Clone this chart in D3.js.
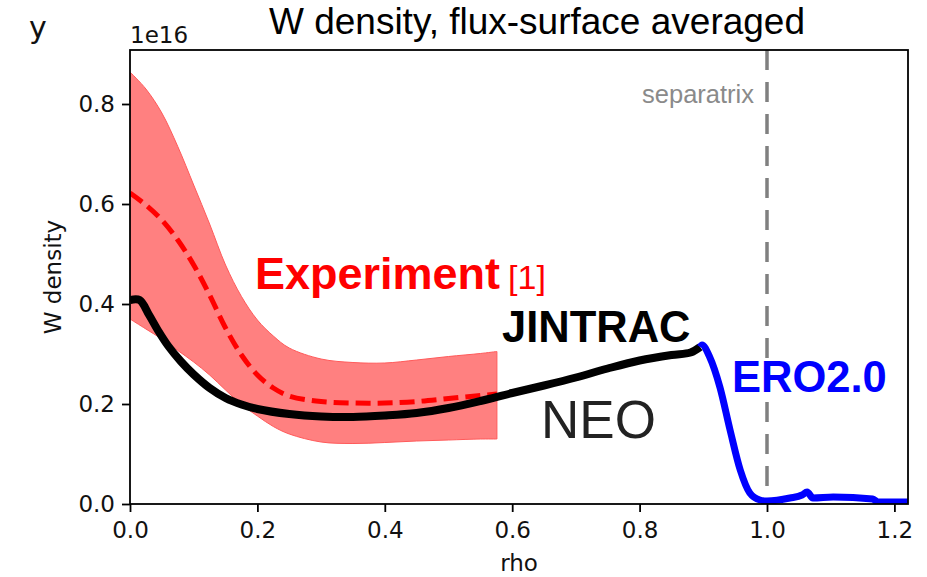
<!DOCTYPE html>
<html><head><meta charset="utf-8">
<script src="https://cdn.jsdelivr.net/npm/d3@7"></script>
<style>html,body{margin:0;padding:0;background:#fff;} svg{display:block;}</style>
</head><body>
<script>
// ---- data ----
const bandRho   = [0, 0.025, 0.05, 0.075, 0.1, 0.125, 0.15, 0.175, 0.2, 0.225, 0.25, 0.3, 0.35, 0.4, 0.45, 0.5, 0.55, 0.576];
const bandUpper = [0.864, 0.83, 0.782, 0.715, 0.638, 0.56, 0.478, 0.415, 0.368, 0.336, 0.312, 0.29, 0.283, 0.282, 0.288, 0.295, 0.301, 0.305];
const bandLower = [0.37, 0.35, 0.33, 0.307, 0.284, 0.258, 0.228, 0.199, 0.176, 0.155, 0.14, 0.124, 0.121, 0.123, 0.126, 0.128, 0.13, 0.13];
const expMean   = [0.622, 0.598, 0.568, 0.528, 0.478, 0.418, 0.352, 0.298, 0.258, 0.232, 0.216, 0.205, 0.202, 0.202, 0.205, 0.211, 0.217, 0.22];

const jintracRho = [0, 0.015, 0.03, 0.045, 0.06, 0.08, 0.1, 0.125, 0.15, 0.175, 0.2, 0.25, 0.3, 0.35, 0.4, 0.45, 0.5, 0.55, 0.6, 0.65, 0.7, 0.75, 0.8, 0.85, 0.88, 0.895];
const jintracVal = [0.408, 0.408, 0.378, 0.345, 0.316, 0.285, 0.259, 0.232, 0.212, 0.199, 0.19, 0.18, 0.175, 0.174, 0.177, 0.182, 0.192, 0.206, 0.222, 0.237, 0.253, 0.271, 0.287, 0.298, 0.303, 0.314];

const eroRho = [0.895, 0.898, 0.91, 0.926, 0.942, 0.958, 0.973, 0.989, 1.0, 1.036, 1.055, 1.063, 1.072, 1.104, 1.166, 1.174, 1.222];
const eroVal = [0.314, 0.318, 0.294, 0.234, 0.148, 0.068, 0.022, 0.008, 0.006, 0.012, 0.018, 0.024, 0.012, 0.014, 0.01, 0.004, 0.004];

const separatrixRho = 1.0;
const xTicks = [0.0, 0.2, 0.4, 0.6, 0.8, 1.0, 1.2];
const yTicks = [0.0, 0.2, 0.4, 0.6, 0.8];

// ---- layout ----
const W = 927, H = 577;
const L = 130, R = 908, T = 50, B = 504;
const svg = d3.select("body").append("svg").attr("width", W).attr("height", H);

const x = d3.scaleLinear().domain([0, (R - L) / 637]).range([L, R]);
const y = d3.scaleLinear().domain([0, (B - T) / 500]).range([B, T]);
const smooth = d3.curveCatmullRom.alpha(0.5);

svg.append("defs").append("clipPath").attr("id", "clip")
  .append("rect").attr("x", L).attr("y", T).attr("width", R - L).attr("height", B - T);

const g = svg.append("g").attr("clip-path", "url(#clip)");

// band
const band = bandRho.map((r, i) => ({ r, u: bandUpper[i], l: bandLower[i], m: expMean[i] }));
g.append("path").datum(band)
  .attr("d", d3.area().x(d => x(d.r)).y0(d => y(d.l)).y1(d => y(d.u)).curve(smooth))
  .attr("fill", "rgb(255,128,128)").attr("stroke", "rgb(255,90,90)").attr("stroke-width", 1);

// separatrix
g.append("line").attr("x1", x(separatrixRho)).attr("x2", x(separatrixRho)).attr("y1", T).attr("y2", B)
  .attr("stroke", "#808080").attr("stroke-width", 3.5).attr("stroke-dasharray", "20,12");

// experiment mean (dashed)
g.append("path").datum(band)
  .attr("d", d3.line().x(d => x(d.r)).y(d => y(d.m)).curve(smooth))
  .attr("fill", "none").attr("stroke", "#ff0000").attr("stroke-width", 5).attr("stroke-dasharray", "15,7");

// JINTRAC / NEO
g.append("path").datum(jintracRho.map((r, i) => [r, jintracVal[i]]))
  .attr("d", d3.line().x(d => x(d[0])).y(d => y(d[1])).curve(smooth))
  .attr("fill", "none").attr("stroke", "#000").attr("stroke-width", 8).attr("stroke-linejoin", "round");

// ERO2.0
g.append("path").datum(eroRho.map((r, i) => [r, eroVal[i]]))
  .attr("d", d3.line().x(d => x(d[0])).y(d => y(d[1])).curve(d3.curveMonotoneX))
  .attr("fill", "none").attr("stroke", "#0000ff").attr("stroke-width", 7).attr("stroke-linejoin", "round");

// axes
const tickFont = "DejaVu Sans";
const xa = svg.append("g").attr("transform", `translate(0,${B})`)
  .call(d3.axisBottom(x).tickValues(xTicks).tickFormat(d3.format(".1f")).tickSizeInner(8).tickSizeOuter(0).tickPadding(6));
const ya = svg.append("g").attr("transform", `translate(${L},0)`)
  .call(d3.axisLeft(y).tickValues(yTicks).tickFormat(d3.format(".1f")).tickSizeInner(8).tickSizeOuter(0).tickPadding(7));
[xa, ya].forEach(a => {
  a.select(".domain").remove();
  a.selectAll(".tick line").attr("stroke", "#000").attr("stroke-width", 1.8);
  a.selectAll(".tick text").attr("font-family", tickFont).attr("font-size", 23).attr("fill", "#111");
});
xa.selectAll(".tick text").attr("dy", "0.85em");
svg.append("rect").attr("x", L).attr("y", T).attr("width", R - L).attr("height", B - T)
  .attr("fill", "none").attr("stroke", "#000").attr("stroke-width", 1.8);

// axis labels
svg.append("text").attr("x", (L + R) / 2).attr("y", 571).attr("text-anchor", "middle")
  .attr("font-family", tickFont).attr("font-size", 23).attr("fill", "#111").text("rho");
svg.append("text").attr("transform", `translate(61,${(T + B) / 2}) rotate(-90)`).attr("text-anchor", "middle")
  .attr("font-family", tickFont).attr("font-size", 23).attr("fill", "#111").text("W density");
svg.append("text").attr("x", L).attr("y", 43).attr("font-family", tickFont).attr("font-size", 23).attr("fill", "#111").text("1e16");
svg.append("text").attr("x", 29).attr("y", 38).attr("font-family", tickFont).attr("font-size", 30).attr("fill", "#111").text("y");

// title
svg.append("text").attr("x", 537).attr("y", 34).attr("text-anchor", "middle")
  .attr("font-family", "Liberation Sans, Arial, sans-serif").attr("font-size", 37).attr("fill", "#000")
  .text("W density, flux-surface averaged");

// annotations
const sans = "Liberation Sans, Arial, sans-serif";
svg.append("text").attr("x", 754).attr("y", 103).attr("text-anchor", "end")
  .attr("font-family", sans).attr("font-size", 25.5).attr("fill", "#8a8a8a").text("separatrix");
const exp = svg.append("text").attr("x", 255).attr("y", 289).attr("font-family", sans).attr("fill", "#ff0000");
exp.append("tspan").attr("font-size", 45).attr("font-weight", "bold").text("Experiment");
exp.append("tspan").attr("font-size", 34).attr("dx", 8).text("[1]");
svg.append("text").attr("x", 502).attr("y", 342).attr("font-family", sans).attr("font-size", 43.5)
  .attr("font-weight", "bold").attr("fill", "#000").text("JINTRAC");
svg.append("text").attr("x", 541).attr("y", 438).attr("font-family", sans).attr("font-size", 53)
  .attr("fill", "#222").text("NEO");
svg.append("text").attr("x", 732).attr("y", 392).attr("font-family", sans).attr("font-size", 43.5)
  .attr("font-weight", "bold").attr("fill", "#0000ff").text("ERO2.0");
</script>
</body></html>
